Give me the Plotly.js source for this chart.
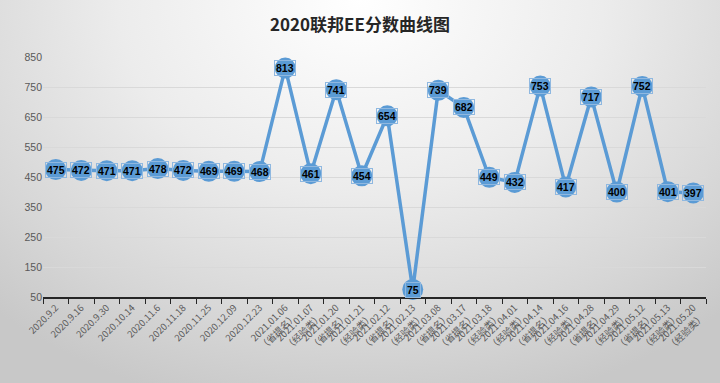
<!DOCTYPE html>
<html>
<head>
<meta charset="utf-8">
<script src="https://cdn.plot.ly/plotly-3.0.1.min.js"></script>
<style>
html,body{margin:0;padding:0;}
#chart{width:720px;height:383px;background:radial-gradient(ellipse 75% 110% at 50% 0%, #ffffff 0%, #ececec 45%, #d6d6d6 80%, #c8c8c8 100%);}
</style>
</head>
<body>
<div id="chart"></div>
<script>
const dates = ["2020.9.2","2020.9.16","2020.9.30","2020.10.14","2020.11.6","2020.11.18","2020.11.25","2020.12.09","2020.12.23",
"2021.01.06","2021.01.07","2021.01.20","2021.01.21","2021.02.12","2021.02.13","2021.03.08","2021.03.17","2021.03.18",
"2021.04.01","2021.04.14","2021.04.16","2021.04.28","2021.04.29","2021.05.12","2021.05.13","2021.05.20"];
const drawTypes = ["","","","","","","","","",
"（省提名）","（经验类）","（省提名）","（经验类）","（省提名）","（经验类）","（省提名）","（省提名）","（经验类）",
"（经验类）","（省提名）","（经验类）","（省提名）","（经验类）","（省提名）","（经验类）","（经验类）"];
const scores = [475,472,471,471,478,472,469,469,468,813,461,741,454,654,75,739,682,449,432,753,417,717,400,752,401,397];
const yTicks = [50,150,250,350,450,550,650,750,850];

const labels = dates.map((d,i)=> drawTypes[i] ? d + "<br>" + drawTypes[i] : d);

const trace = {
  x: labels, y: scores, type: "scatter", mode: "lines+markers",
  line: {color: "#5B9BD5", width: 3.5},
  marker: {color: "#5B9BD5", size: 21, line: {width: 0}},
  hoverinfo: "skip", cliponaxis: false
};

const annotations = scores.map((v,i)=>({
  x: labels[i], y: v, xref: "x", yref: "y", text: "<b>" + v + "</b>", showarrow: false,
  font: {family: "Liberation Sans, Arial, sans-serif", size: 10.5, color: "#000"},
  bordercolor: "#8fb8e0", borderwidth: 1, borderpad: 1, bgcolor: "rgba(0,0,0,0)"
}));

const layout = {
  width: 720, height: 383,
  paper_bgcolor: "rgba(0,0,0,0)", plot_bgcolor: "rgba(0,0,0,0)",
  margin: {l: 43, r: 14, t: 57, b: 86},
  showlegend: false,
  title: {text: "<b>2020联邦EE分数曲线图</b>", x: 0.5, xanchor: "center", y: 0.935, yanchor: "middle",
    font: {family: "Noto Sans CJK SC, sans-serif", size: 17, color: "#262626"}},
  xaxis: {
    type: "category", range: [-0.5, 25.5], tickangle: -45,
    showline: true, linecolor: "#262626", linewidth: 1.5,
    ticks: "outside", ticklen: 5, tickcolor: "#262626", tickson: "boundaries",
    showgrid: false, zeroline: false,
    tickfont: {family: "Noto Sans CJK SC, sans-serif", size: 9.5, color: "#595959"}
  },
  yaxis: {
    range: [50, 850], tickvals: yTicks, ticktext: yTicks.map(String),
    showgrid: true, gridcolor: "#d9d9d9", gridwidth: 1, zeroline: false, showline: false,
    ticks: "", tickfont: {family: "Liberation Sans, Arial, sans-serif", size: 10.5, color: "#595959"}
  },
  annotations: annotations
};

Plotly.newPlot("chart", [trace], layout, {displayModeBar: false, staticPlot: true});
</script>
</body>
</html>
